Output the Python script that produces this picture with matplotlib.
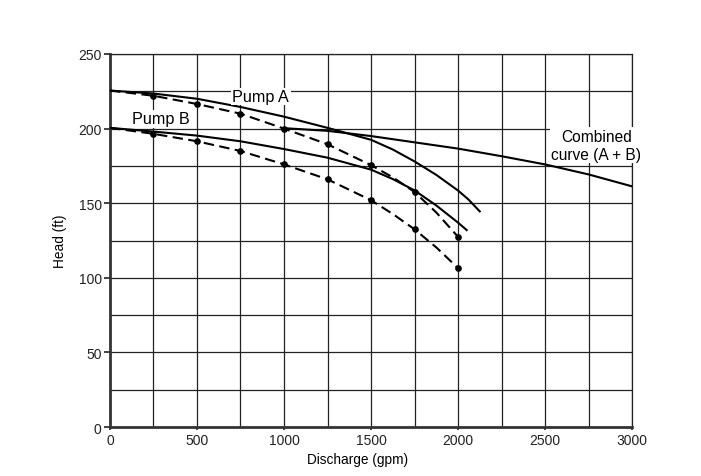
import matplotlib.pyplot as plt

plt.rcParams['font.family'] = ['Liberation Sans', 'DejaVu Sans']

# pump curves (discharge gpm, head ft)
a_solid_q = [0, 250, 500, 750, 1000, 1250, 1500, 1625, 1750, 1875, 2000, 2060, 2125]
a_solid_h = [225.5, 223.5, 220, 214.5, 208, 200.5, 192.5, 186, 178, 169, 158.5, 152.5, 144.5]

b_solid_q = [0, 250, 500, 750, 1000, 1250, 1500, 1625, 1750, 1875, 2000, 2050]
b_solid_h = [200.5, 198, 195.3, 191.5, 186.3, 180.5, 172.5, 166.2, 158.6, 148.5, 137, 132]

# measured points (dots) of each pump
pts_q = [250, 500, 750, 1000, 1250, 1500, 1750, 2000]
a_pts_h = [222, 216.5, 210, 200, 189.5, 175.5, 157.5, 127.5]
b_pts_h = [196.5, 191.5, 185, 176, 166, 152, 132.5, 106.5]

# dashed lines through the points
dash_q = [0, 250, 500, 750, 1000, 1250, 1500, 1625, 1750, 1875, 2000]
a_dash_h = [225.5, 222, 216.5, 210, 200, 189.5, 175.5, 167.4, 157.5, 143.8, 127.5]
b_dash_h = [200.5, 196.5, 191.5, 185, 176, 166, 152, 142.8, 132.5, 120.4, 106.5]

comb_q = [1000, 1250, 1500, 1750, 2000, 2250, 2500, 2750, 3000]
comb_h = [200.3, 198.5, 195, 190.8, 186.6, 181.5, 176, 169.3, 161.3]

fig = plt.figure(figsize=(7.01, 4.77), dpi=100)
ax = fig.add_axes([0.1569, 0.1027, 0.7447, 0.782])

# grid
for q in range(250, 3001, 250):
    ax.axvline(q, color='#222222', lw=0.9, zorder=1)
for h in range(25, 251, 25):
    ax.axhline(h, color='#222222', lw=0.9, zorder=1)

ax.plot(a_solid_q, a_solid_h, color='black', lw=1.5, zorder=3)
ax.plot(b_solid_q, b_solid_h, color='black', lw=1.5, zorder=3)
ax.plot(comb_q, comb_h, color='black', lw=1.5, zorder=3)

ax.plot(dash_q, a_dash_h, color='black', lw=1.5, ls=(0, (5, 2.6)), zorder=3)
ax.plot(dash_q, b_dash_h, color='black', lw=1.5, ls=(0, (5, 2.6)), zorder=3)
ax.plot(pts_q, a_pts_h, 'o', color='black', ms=3.8, zorder=4)
ax.plot(pts_q, b_pts_h, 'o', color='black', ms=3.8, zorder=4)

box = dict(facecolor='white', edgecolor='none', pad=1.0)
ax.text(867, 221.5, 'Pump A', fontsize=11.6, ha='center', va='center', bbox=box, zorder=5)
ax.text(295, 206.5, 'Pump B', fontsize=11.6, ha='center', va='center', bbox=box, zorder=5)
ax.text(2795, 189, 'Combined\ncurve (A + B)', fontsize=11.2, ha='center', va='center',
        linespacing=1.25, bbox=box, zorder=5)

ax.set_xlim(0, 3000)
ax.set_ylim(0, 250)
ax.set_xticks(range(0, 3001, 500))
ax.set_yticks(range(0, 251, 50))
ax.tick_params(axis='both', labelsize=10, color='#222222', width=1.2, labelcolor='#222222')
ax.tick_params(axis='y', length=4, pad=2)
ax.tick_params(axis='x', length=2, pad=2)
ax.set_xlabel('Discharge (gpm)', fontsize=9.8)
ax.set_ylabel('Head (ft)', fontsize=9.8)
ax.xaxis.set_label_coords(0.475, -0.066)
ax.yaxis.set_label_coords(-0.082, 0.5)

for side in ['left', 'bottom']:
    ax.spines[side].set_linewidth(2)
    ax.spines[side].set_color('#333333')
for side in ['top', 'right']:
    ax.spines[side].set_linewidth(0.9)
    ax.spines[side].set_color('#222222')

fig.savefig('out.png', dpi=100)
